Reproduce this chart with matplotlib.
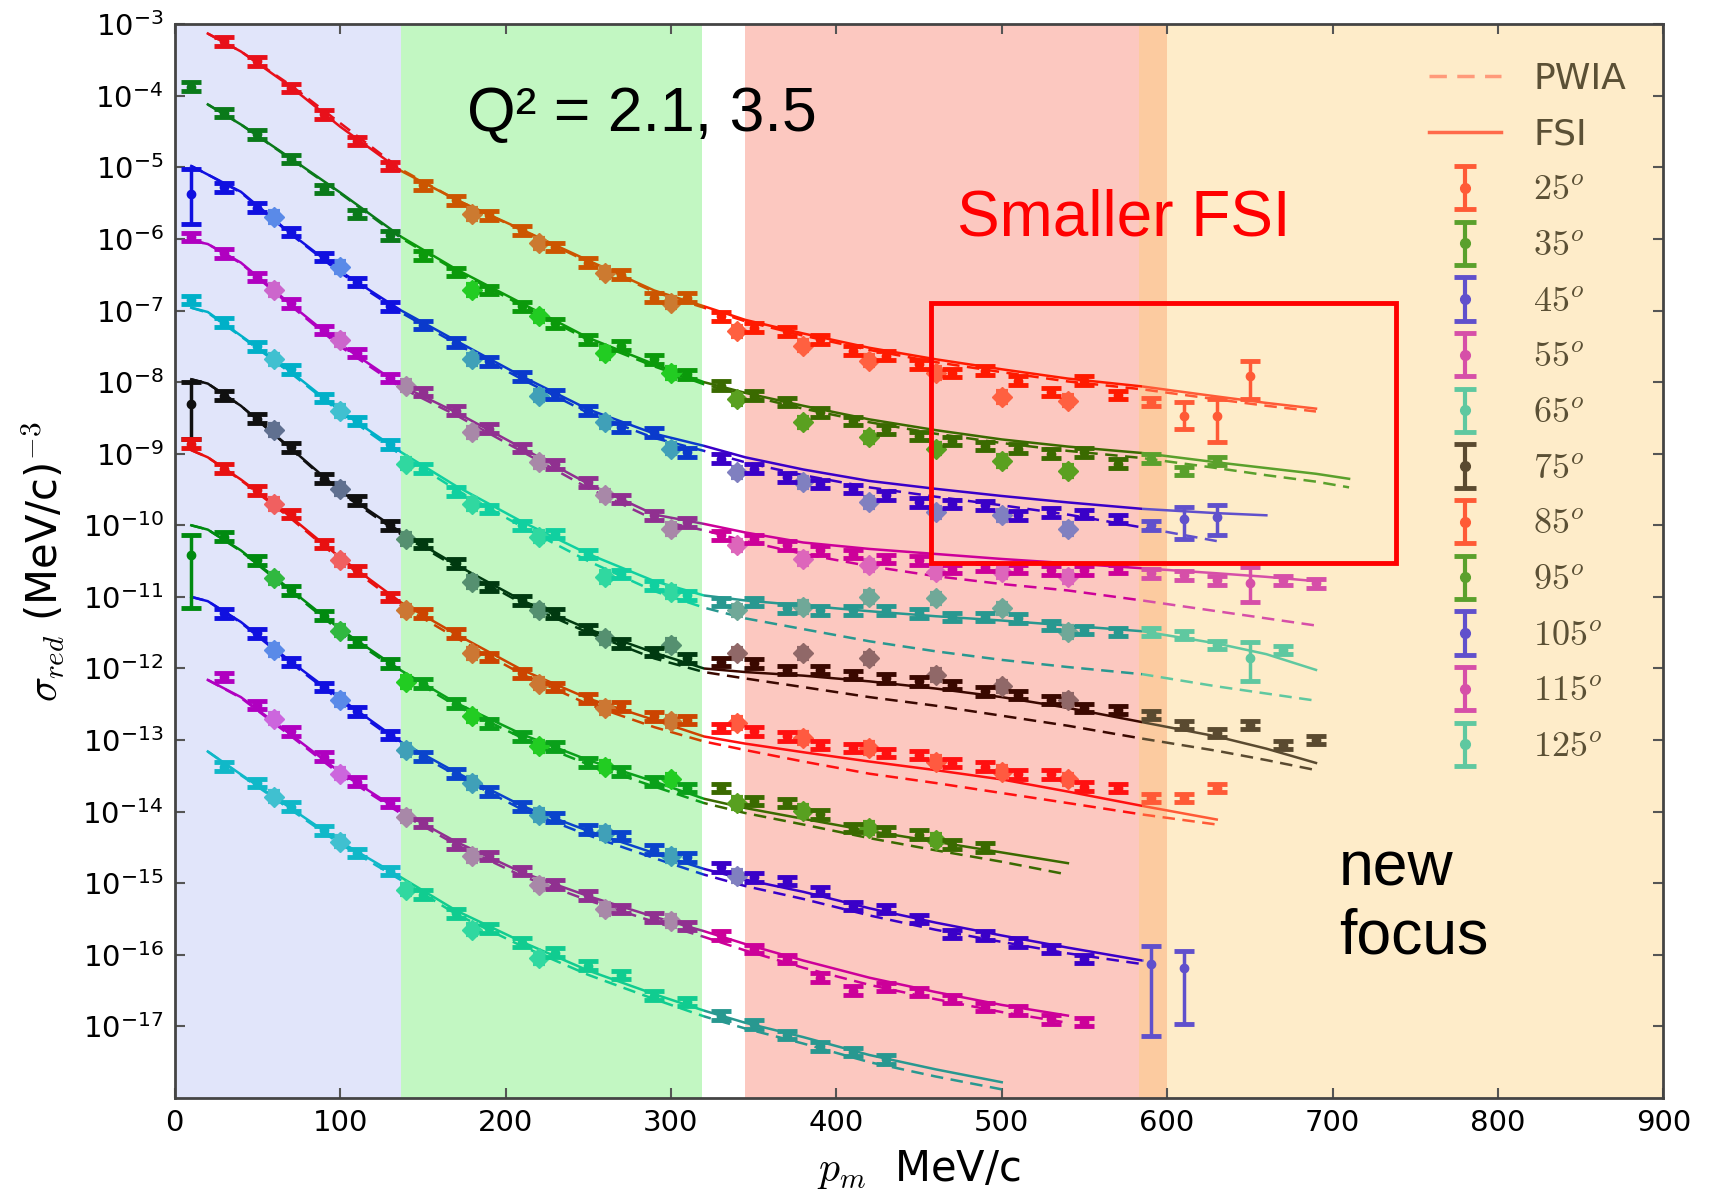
import numpy as np
import matplotlib
matplotlib.use('Agg')
import matplotlib.pyplot as plt
from matplotlib.patches import Rectangle
from matplotlib.lines import Line2D
from matplotlib.font_manager import FontProperties
from matplotlib.ticker import FixedLocator, NullLocator
from matplotlib.legend_handler import HandlerErrorbar
from matplotlib.container import ErrorbarContainer

# ---- data (log10 of sigma_red) ----
ANGLES = [25, 35, 45, 55, 65, 75, 85, 95, 105, 115, 125]

PM_BINS = [10, 30, 50, 70, 90, 110, 130, 150, 170, 190, 210, 230, 250, 270, 290, 310, 330,
           350, 370, 390, 410, 430, 450, 470, 490, 510, 530, 550, 570, 590, 610, 630, 650, 670, 690]
PM_STAR = [60, 100, 140, 180, 220, 260, 300, 340, 380, 420, 460, 500, 540]
PM_KNOTS = [10, 20, 40, 70, 100, 137, 170, 210, 250, 290, 320, 345, 380, 420, 460, 500, 540,
            585, 630, 660, 690, 710]

Y25 = [None, -3.24, -3.52, -3.89, -4.26, -4.63, -4.98, -5.25, -5.46, -5.67, -5.88, -6.11, -6.33, -6.50,
       -6.82, -6.82, -7.08, -7.24, -7.29, -7.40, -7.56, -7.63, -7.75, -7.87, -7.84, -7.98, -8.14, -7.98,
       -8.18, -8.28, -8.47, -8.47, -7.91, None, None]
Y35 = [-3.87, -4.24, -4.54, -4.88, -5.30, -5.65, -5.95, -6.23, -6.46, -6.71, -6.94, -7.18, -7.40, -7.49,
       -7.68, -7.89, -8.05, -8.19, -8.28, -8.42, -8.54, -8.66, -8.75, -8.82, -8.89, -8.93, -9.00, -8.98,
       -9.14, -9.07, -9.24, -9.10, None, None, None]
Y45 = [-5.37, -5.28, -5.56, -5.90, -6.25, -6.60, -6.94, -7.20, -7.45, -7.71, -7.92, -8.17, -8.40, -8.63,
       -8.70, -8.98, -9.07, -9.21, -9.33, -9.42, -9.49, -9.58, -9.68, -9.70, -9.72, -9.86, -9.82, -9.84,
       -9.91, -10.00, -9.91, -9.89, None, None, None]
Y55 = [-5.97, -6.20, -6.53, -6.90, -7.27, -7.59, -7.94, -8.14, -8.40, -8.65, -8.92, -9.15, -9.40, -9.63,
       -9.86, -9.96, -10.14, -10.19, -10.28, -10.35, -10.40, -10.47, -10.49, -10.61, -10.58, -10.61, -10.63,
       -10.63, -10.61, -10.67, -10.70, -10.77, -10.81, -10.77, -10.81]
Y65 = [-6.85, -7.17, -7.50, -7.82, -8.22, -8.54, -8.87, -9.21, -9.53, -9.77, -10.00, -10.12, -10.40, -10.68,
       -10.84, -10.98, -11.07, -11.07, -11.16, -11.19, -11.19, -11.19, -11.23, -11.28, -11.28, -11.30, -11.40,
       -11.46, -11.49, -11.49, -11.53, -11.67, -11.86, -11.74, None]
Y75 = [-8.30, -8.19, -8.51, -8.91, -9.35, -9.65, -10.00, -10.26, -10.53, -10.86, -11.05, -11.23, -11.45,
       -11.65, -11.77, -11.86, -11.91, -11.93, -12.02, -12.02, -12.09, -12.14, -12.18, -12.23, -12.32, -12.37,
       -12.44, -12.55, -12.58, -12.65, -12.79, -12.90, -12.79, -13.07, -13.00]
Y85 = [-8.86, -9.21, -9.51, -9.84, -10.26, -10.63, -11.00, -11.23, -11.51, -11.84, -12.07, -12.26, -12.42,
       -12.53, -12.67, -12.72, -12.83, -12.88, -12.95, -13.07, -13.11, -13.18, -13.21, -13.32, -13.37, -13.48,
       -13.48, -13.65, -13.67, -13.81, -13.81, -13.67, None, None, None]
Y95 = [-10.42, -10.16, -10.49, -10.91, -11.26, -11.63, -11.93, -12.21, -12.49, -12.77, -12.95, -13.09, -13.31,
       -13.44, -13.58, -13.67, -13.67, -13.85, -13.88, -14.04, -14.23, -14.27, -14.32, -14.46, -14.50, None,
       None, None, None, None, None, None, None, None, None]
Y105 = [None, -11.23, -11.51, -11.91, -12.26, -12.60, -12.93, -13.23, -13.47, -13.72, -13.93, -14.08, -14.25,
        -14.34, -14.53, -14.64, -14.78, -14.92, -14.97, -15.11, -15.32, -15.36, -15.50, -15.71, -15.73, -15.83,
        -15.92, -16.06, None, -16.13, -16.18, None, None, None, None]
Y115 = [None, -12.12, -12.51, -12.88, -13.23, -13.58, -13.88, -14.16, -14.46, -14.62, -14.83, -15.02, -15.17,
        -15.36, -15.48, -15.60, -15.73, -15.92, -16.06, -16.32, -16.50, -16.45, -16.52, -16.62, -16.73, -16.78,
        -16.90, -16.94, None, None, None, None, None, None, None]
Y125 = [None, -13.37, -13.60, -13.93, -14.26, -14.58, -14.83, -15.16, -15.42, -15.63, -15.83, -15.97, -16.15,
        -16.28, -16.57, -16.66, -16.85, -16.97, -17.12, -17.28, -17.36, -17.46, None, None, None, None, None,
        None, None, None, None, None, None, None, None]

S25 = [None, None, None, -5.65, -6.06, -6.47, -6.89, -7.29, -7.49, -7.70, -7.87, -8.21, -8.26]
S35 = [None, None, None, -6.71, -7.08, -7.59, -7.87, -8.24, -8.56, -8.77, -8.93, -9.10, -9.24]
S45 = [-5.69, -6.39, None, -7.68, -8.19, -8.56, -8.93, -9.26, -9.40, -9.68, -9.82, -9.86, -10.05]
S55 = [-6.71, -7.41, -8.05, -8.70, -9.12, -9.58, -10.05, -10.28, -10.47, -10.56, -10.65, -10.65, -10.72]
S65 = [-7.68, -8.40, -9.14, -9.70, -10.16, -10.72, -10.93, -11.19, -11.14, -11.00, -11.02, -11.16, -11.49]
S75 = [-8.67, -9.49, -10.19, -10.79, -11.19, -11.58, -11.67, -11.79, -11.79, -11.86, -12.09, -12.25, -12.44]
S85 = [-9.70, -10.49, -11.19, -11.79, -12.21, -12.55, -12.74, -12.76, -12.97, -13.11, -13.30, -13.44, -13.55]
S95 = [-10.74, -11.47, -12.19, -12.67, -13.09, -13.37, -13.55, -13.88, -13.99, -14.23, -14.39, None, None]
S105 = [-11.74, -12.44, -13.14, -13.60, -14.05, -14.30, -14.62, -14.90, None, None, None, None, None]
S115 = [-12.70, -13.47, -14.07, -14.62, -15.02, -15.36, -15.53, None, None, None, None, None, None]
S125 = [-13.79, -14.42, -15.09, -15.65, -16.05, None, None, None, None, None, None, None, None]

F25 = [None, -3.13, -3.38, -3.87, -4.43, -5.05, -5.45, -5.87, -6.30, -6.72, -6.94, -7.13, -7.32, -7.52,
       -7.68, -7.82, -7.95, -8.06, -8.20, -8.29, -8.37, None]
P25 = [None, -3.13, -3.38, -3.85, -4.38, -5.03, -5.45, -5.88, -6.32, -6.74, -6.96, -7.15, -7.35, -7.55,
       -7.72, -7.86, -7.99, -8.10, -8.24, -8.33, -8.41, None]
F35 = [None, -4.12, -4.40, -4.87, -5.35, -5.97, -6.42, -6.90, -7.38, -7.75, -8.00, -8.15, -8.33, -8.52,
       -8.67, -8.80, -8.90, -8.99, -9.12, -9.20, -9.28, -9.35]
P35 = [None, -4.12, -4.40, -4.88, -5.36, -5.99, -6.44, -6.93, -7.41, -7.78, -8.03, -8.18, -8.37, -8.56,
       -8.72, -8.85, -8.96, -9.06, -9.20, -9.30, -9.39, -9.47]
F45 = [-4.98, -5.10, -5.34, -5.92, -6.45, -7.00, -7.42, -7.92, -8.38, -8.72, -8.89, -9.05, -9.22, -9.38,
       -9.49, -9.59, -9.68, -9.77, -9.83, -9.86, None, None]
P45 = [-4.98, -5.10, -5.35, -5.93, -6.47, -7.03, -7.46, -7.96, -8.43, -8.78, -8.96, -9.12, -9.30, -9.47,
       -9.60, -9.72, -9.85, -10.03, -10.22, None, None, None]
F55 = [-6.02, -6.07, -6.33, -6.91, -7.47, -8.05, -8.42, -8.92, -9.42, -9.85, -9.98, -10.10, -10.24, -10.33,
       -10.40, -10.47, -10.53, -10.60, -10.67, -10.72, -10.78, None]
P55 = [-6.02, -6.07, -6.34, -6.93, -7.50, -8.08, -8.46, -8.97, -9.48, -9.92, -10.07, -10.22, -10.40, -10.57,
       -10.71, -10.82, -10.91, -11.05, -11.20, -11.30, -11.40, None]
F65 = [-6.96, -7.02, -7.35, -7.85, -8.40, -8.98, -9.45, -9.95, -10.40, -10.78, -10.98, -11.05, -11.12, -11.20,
       -11.27, -11.33, -11.40, -11.48, -11.65, -11.80, -12.02, None]
P65 = [-6.96, -7.03, -7.36, -7.87, -8.42, -9.02, -9.50, -10.02, -10.50, -10.92, -11.15, -11.30, -11.45, -11.62,
       -11.76, -11.88, -11.98, -12.08, -12.25, -12.35, -12.45, None]
F75 = [-7.96, -8.02, -8.33, -8.92, -9.52, -10.10, -10.55, -11.05, -11.45, -11.78, -12.00, -12.05, -12.10,
       -12.18, -12.28, -12.40, -12.55, -12.75, -12.95, -13.12, -13.32, None]
P75 = [-7.96, -8.02, -8.33, -8.93, -9.54, -10.13, -10.58, -11.09, -11.50, -11.86, -12.05, -12.14, -12.26,
       -12.40, -12.52, -12.66, -12.80, -12.98, -13.15, -13.28, -13.42, None]
F85 = [-8.95, -9.05, -9.36, -9.88, -10.45, -11.08, -11.52, -12.02, -12.42, -12.72, -12.95, -13.05, -13.17,
       -13.30, -13.42, -13.55, -13.72, -13.92, -14.11, None, None, None]
P85 = [-8.95, -9.05, -9.37, -9.90, -10.48, -11.12, -11.57, -12.08, -12.50, -12.82, -13.02, -13.14, -13.30,
       -13.47, -13.60, -13.74, -13.88, -14.04, -14.18, None, None, None]
F95 = [-10.00, -10.06, -10.35, -10.90, -11.45, -12.03, -12.48, -12.92, -13.28, -13.58, -13.82, -13.95, -14.10,
       -14.27, -14.42, -14.57, -14.72, None, None, None, None, None]
P95 = [-10.00, -10.06, -10.36, -10.92, -11.48, -12.06, -12.52, -12.97, -13.34, -13.65, -13.88, -14.02, -14.18,
       -14.37, -14.54, -14.70, -14.88, None, None, None, None, None]
F105 = [-11.00, -11.06, -11.35, -11.90, -12.42, -13.03, -13.45, -13.92, -14.27, -14.58, -14.80, -14.95, -15.12,
        -15.35, -15.55, -15.73, -15.90, -16.08, None, None, None, None]
P105 = [-11.00, -11.06, -11.36, -11.92, -12.45, -13.06, -13.49, -13.97, -14.33, -14.65, -14.88, -15.04, -15.22,
        -15.45, -15.65, -15.82, -15.98, -16.13, None, None, None, None]
F115 = [None, -12.16, -12.40, -12.92, -13.45, -14.00, -14.42, -14.85, -15.18, -15.47, -15.67, -15.85, -16.08,
        -16.32, -16.52, -16.70, -16.85, None, None, None, None, None]
P115 = [None, -12.16, -12.41, -12.94, -13.48, -14.03, -14.46, -14.90, -15.24, -15.54, -15.75, -15.94, -16.18,
        -16.42, -16.62, -16.80, -16.95, None, None, None, None, None]
F125 = [None, -13.16, -13.48, -13.95, -14.42, -14.92, -15.38, -15.82, -16.22, -16.55, -16.78, -16.95, -17.15,
        -17.40, -17.60, -17.78, None, None, None, None, None, None]
P125 = [None, -13.16, -13.49, -13.97, -14.45, -14.96, -15.43, -15.88, -16.28, -16.62, -16.86, -17.03, -17.24,
        -17.50, -17.70, -17.88, None, None, None, None, None, None]

# larger error bars: (angle, p_m, low, high) in log10
BIG_ERR = [(45, 10, -5.79, -5.02), (75, 10, -8.80, -8.00), (95, 10, -11.16, -10.14),
           (25, 610, -8.66, -8.28), (25, 630, -8.84, -8.24), (25, 650, -8.24, -7.70),
           (45, 610, -10.19, -9.75), (45, 630, -10.14, -9.72), (55, 650, -11.07, -10.58),
           (65, 650, -12.18, -11.63), (105, 590, -17.13, -15.88), (105, 610, -16.97, -15.95)]
ERR_DEFAULT = 0.06

POINTS = [Y25, Y35, Y45, Y55, Y65, Y75, Y85, Y95, Y105, Y115, Y125]
STARS = [S25, S35, S45, S55, S65, S75, S85, S95, S105, S115, S125]
FSI = [F25, F35, F45, F55, F65, F75, F85, F95, F105, F115, F125]
PWIA = [P25, P35, P45, P55, P65, P75, P85, P95, P105, P115, P125]

# colours per kinematic region (blue, green, red, yellow band)
PT_COLORS = [
    ['#e8101a', '#cc5500', '#ff1a00', '#ff5a36'],
    ['#0a7a1a', '#0b9a0b', '#3a6a00', '#5aa02c'],
    ['#1010e0', '#0a3acc', '#3a00c8', '#6050cc'],
    ['#b000c0', '#903090', '#cc0099', '#d64fa8'],
    ['#00b0c8', '#10d0a0', '#289890', '#5fc8a0'],
    ['#101010', '#003a10', '#3a0800', '#5a4a30'],
    ['#e81010', '#cc4400', '#ff1010', '#ff5a36'],
    ['#008a10', '#0aa01a', '#3a6a00', '#5aa02c'],
    ['#1010e0', '#0a44cc', '#3a00c8', '#6050cc'],
    ['#b000c0', '#903090', '#cc0099', '#d64fa8'],
    ['#10b8c8', '#10cc90', '#289890', '#5fc8a0'],
]
ST_COLORS = [
    ['#ff6060', '#cc7a30', '#ff6040'],
    ['#30b040', '#22cc22', '#5aa020'],
    ['#5a8ae8', '#40a0b8', '#8080c0'],
    ['#cc66cc', '#a888a8', '#dd66bb'],
    ['#40c0d0', '#30d8a0', '#70a898'],
    ['#607090', '#559070', '#906868'],
    ['#f06060', '#cc7733', '#ff5a40'],
    ['#30b840', '#22cc22', '#58a020'],
    ['#5a8ae8', '#40a0b8', '#8080c0'],
    ['#cc66dd', '#a888a8', '#dd66bb'],
    ['#40c0d0', '#30d8a0', '#70a898'],
]
LEGEND_COLORS = ['#ff5a36', '#5aa02c', '#6050cc', '#d64fa8', '#5fc8a0', '#5a4a30',
                 '#ff5a36', '#5aa02c', '#6050cc', '#d64fa8', '#5fc8a0']

BANDS = [(0, 137, '#e1e5fa'), (137, 319, '#c2f7c2'), (345, 583, '#fcc8c0'),
         (583, 600, '#fccba0'), (600, 900, '#feecc9')]
REGIONS = [(0, 137), (137, 320), (320, 585), (585, 900)]


def arr(v):
    return np.array([np.nan if a is None else a for a in v], dtype=float)


def region(p):
    for k, (lo, hi) in enumerate(REGIONS):
        if lo <= p < hi:
            return k
    return 3


fig = plt.figure(figsize=(17.13, 12.01), dpi=100)
ax = fig.add_axes([0.102, 0.0858, 0.869, 0.894])

for x0, x1, c in BANDS:
    ax.axvspan(x0, x1, color=c, lw=0, zorder=0)

pm = np.array(PM_BINS, float)
ps = np.array(PM_STAR, float)
pk = np.array(PM_KNOTS, float)

for i, ang in enumerate(ANGLES):
    # theory curves, coloured by region
    for k, (lo, hi) in enumerate(REGIONS):
        clip = Rectangle((lo, 0), hi - lo, 1, transform=ax.get_xaxis_transform())
        for vals, ls in ((FSI[i], '-'), (PWIA[i], (0, (5, 3)))):
            v = arr(vals)
            ok = ~np.isnan(v)
            ln, = ax.plot(pk[ok], 10 ** v[ok], ls=ls, color=PT_COLORS[i][k], lw=1.8, zorder=2)
            ln.set_clip_path(clip)

    # data points
    v = arr(POINTS[i])
    lo_e = v - ERR_DEFAULT
    hi_e = v + ERR_DEFAULT
    for a, p, l, h in BIG_ERR:
        if a == ang:
            j = PM_BINS.index(p)
            lo_e[j], hi_e[j] = l, h
    regs = np.array([region(p) for p in pm])
    for k in range(4):
        m = (~np.isnan(v)) & (regs == k)
        if not m.any():
            continue
        y = 10 ** v[m]
        yerr = [y - 10 ** lo_e[m], 10 ** hi_e[m] - y]
        ax.errorbar(pm[m], y, yerr=yerr, fmt='o', color=PT_COLORS[i][k], ms=6,
                    elinewidth=2.5, capsize=7, capthick=3.5, zorder=4)

    s = arr(STARS[i])
    sregs = np.array([region(p) for p in ps])
    for k in range(3):
        m = (~np.isnan(s)) & (sregs == k)
        if not m.any():
            continue
        y = 10 ** s[m]
        yerr = [y - 10 ** (s[m] - ERR_DEFAULT - 0.02), 10 ** (s[m] + ERR_DEFAULT + 0.02) - y]
        ax.errorbar(ps[m], y, yerr=yerr, fmt='D', color=ST_COLORS[i][k], ms=10,
                    elinewidth=2.5, capsize=4, capthick=3, zorder=3)

ax.set_yscale('log')
ax.set_xlim(0, 900)
ax.set_ylim(1e-18, 1e-3)
ax.yaxis.set_major_locator(FixedLocator(10.0 ** np.arange(-17, -2)))
ax.yaxis.set_minor_locator(NullLocator())
ax.set_xticks(np.arange(0, 901, 100))
ax.tick_params(direction='in', top=True, right=True, length=7, width=1.5,
               color='#555555', labelsize=21, pad=8)
for sp in ax.spines.values():
    sp.set_color('#444444')
    sp.set_linewidth(2)

lab_font = FontProperties(family='DejaVu Sans', size=30, math_fontfamily='cm')
ax.set_xlabel(r'$p_m$  MeV/c', fontproperties=lab_font, labelpad=8)
ax.set_ylabel(r'$\sigma_{red}$ (MeV/c)$^{-3}$', fontproperties=lab_font, labelpad=11)

# annotations
ax.text(177, 10 ** -4.26, 'Q² = 2.1, 3.5', fontsize=45, family='Liberation Sans', va='center', zorder=7)
ax.text(473, 10 ** -5.71, 'Smaller FSI', fontsize=46, family='Liberation Sans', color='red',
        va='center', zorder=7)
ax.text(704, 10 ** -15.28, 'new\nfocus', fontsize=45, family='Liberation Sans', va='center', zorder=7)
ax.add_patch(Rectangle((457, 10 ** -10.52), 738.4 - 457, 10 ** -6.90 - 10 ** -10.52, fill=False,
                       ec='red', lw=3.5, zorder=6))

# legend
handles = [Line2D([], [], color='#ff9a7a', ls=(0, (5, 3)), lw=2.5),
           Line2D([], [], color='#ff6a4a', ls='-', lw=2.5)]
labels = ['PWIA', 'FSI']
for ang, c in zip(ANGLES, LEGEND_COLORS):
    h = ax.errorbar([np.nan], [np.nan], yerr=[[1.0], [1.0]], fmt='o', color=c, ms=7,
                    elinewidth=3, capsize=8, capthick=3.5)
    handles.append(h)
    labels.append(r'$%d^o$' % ang)
leg = ax.legend(handles, labels, loc='upper right', bbox_to_anchor=(0.997, 0.995), frameon=False,
                prop=FontProperties(family='DejaVu Sans', size=26, math_fontfamily='cm'),
                labelcolor='#5b5035', handlelength=2.0, labelspacing=0.6, handletextpad=0.9,
                handler_map={ErrorbarContainer: HandlerErrorbar(yerr_size=0.6)})

fig.savefig('out.png', dpi=100)
